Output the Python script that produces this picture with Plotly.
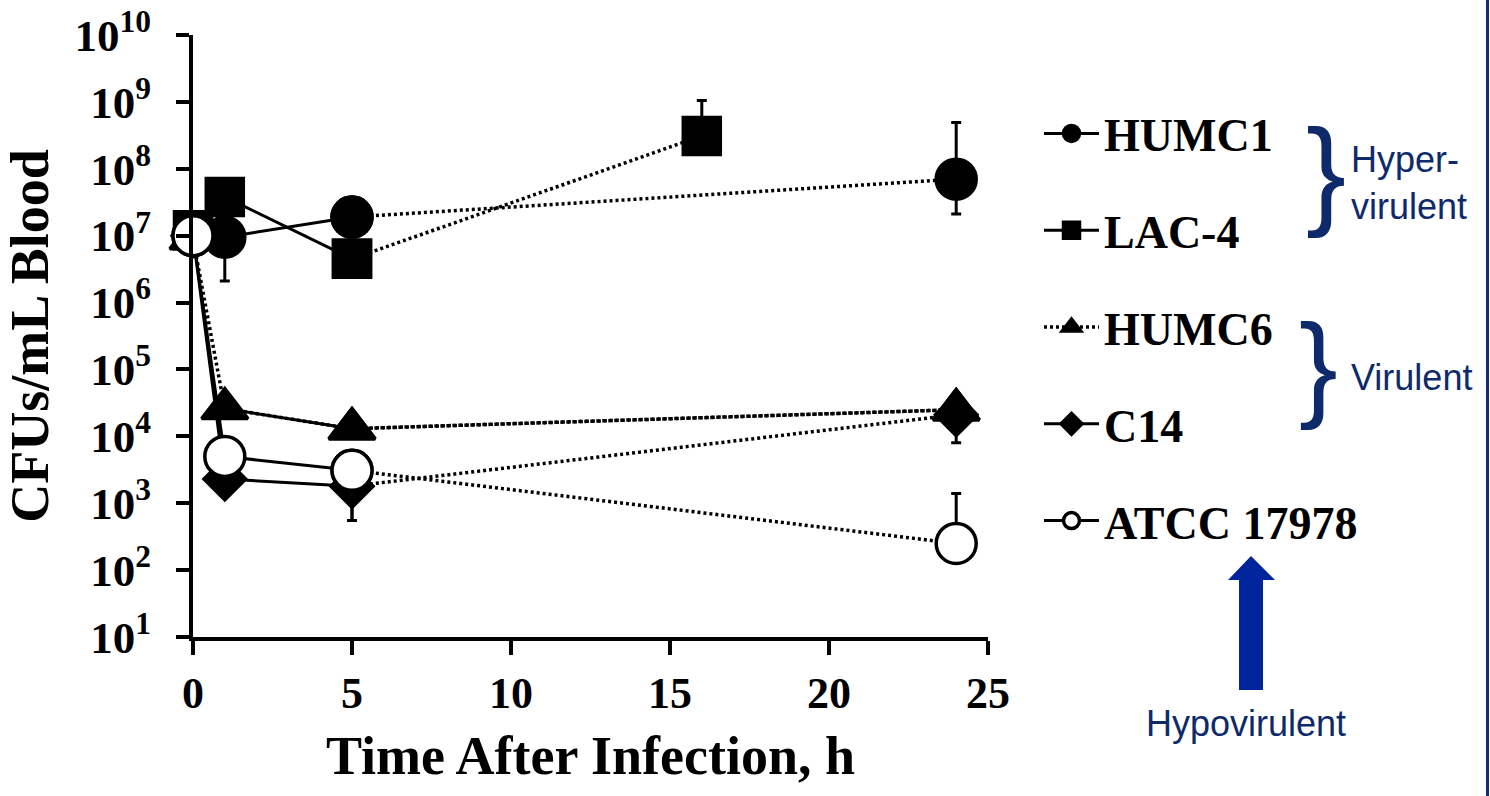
import plotly.graph_objects as go

# ---------------- data ----------------
series_names = ["HUMC1", "LAC-4", "HUMC6", "C14", "ATCC 17978"]

times_humc1 = [0, 1, 5, 24]
cfu_humc1 = [1.0e7, 9.5e6, 1.9e7, 7.0e7]
upper_humc1 = [None, None, None, 4.9e8]
lower_humc1 = [None, 2.1e6, None, 2.1e7]

times_lac4 = [0, 1, 5, 16]
cfu_lac4 = [1.2e7, 3.8e7, 4.5e6, 3.1e8]
upper_lac4 = [None, None, None, 1.05e9]
lower_lac4 = [None, None, None, None]

times_humc6 = [0, 1, 5, 24]
cfu_humc6 = [9.0e6, 2.6e4, 1.3e4, 2.5e4]
upper_humc6 = [None, None, None, None]
lower_humc6 = [None, None, None, None]

times_c14 = [0, 1, 5, 24]
cfu_c14 = [1.0e7, 2.3e3, 1.8e3, 2.1e4]
upper_c14 = [None, None, None, None]
lower_c14 = [None, None, 5.5e2, 8.0e3]

times_atcc = [0, 1, 5, 24]
cfu_atcc = [1.0e7, 5.0e3, 3.1e3, 2.5e2]
upper_atcc = [None, None, None, 1.4e3]
lower_atcc = [None, None, None, None]

y_tick_exponents = list(range(1, 11))
x_ticks = [0, 5, 10, 15, 20, 25]

# ---------------- layout helpers ----------------
W, H = 1490, 796
L, T = 193, 35
PW, PH = 795, 602
R, B = W - L - PW, H - T - PH


def xp(px):
    return (px - L) / PW


def yp(py):
    return (T + PH - py) / PH


SERIF = "Liberation Serif"
SANS = "Liberation Sans"
NAVY = "#0f2a6b"

fig = go.Figure()


def err_arrays(ys, ups, los, idx):
    plus = [(ups[i] - ys[i]) if ups[i] is not None else 0 for i in idx]
    minus = [(ys[i] - los[i]) if los[i] is not None else 0 for i in idx]
    return plus, minus


def add_series(name, t, y, ups, los, symbol, size, fill, early_dash, overlay_solid=None):
    marker = dict(symbol=symbol, size=size, color=fill, line=dict(color="black", width=3.5))
    early_idx = [i for i, v in enumerate(t) if v <= 5]
    late_idx = [i for i, v in enumerate(t) if v >= 5]
    idx = list(range(len(t))) if early_dash == "dot" else early_idx
    plus, minus = err_arrays(y, ups, los, idx)
    lp, lm = err_arrays(y, ups, los, late_idx)
    fig.add_trace(go.Scatter(
        x=[t[i] for i in late_idx], y=[y[i] for i in late_idx],
        mode="lines+markers", showlegend=False, legendgroup=name, cliponaxis=False,
        line=dict(color="black", width=3.5, dash="3px,3px"), marker=marker,
        error_y=dict(type="data", symmetric=False, array=lp, arrayminus=lm,
                     color="black", thickness=3, width=5),
        hoverinfo="skip"))
    fig.add_trace(go.Scatter(
        x=[t[i] for i in idx], y=[y[i] for i in idx],
        mode="lines+markers", name=name, legendgroup=name, cliponaxis=False,
        line=dict(color="black", width=3.5 if early_dash == "dot" else 3,
                  dash="3px,3px" if early_dash == "dot" else "solid"),
        marker=marker,
        error_y=dict(type="data", symmetric=False, array=plus, arrayminus=minus,
                     color="black", thickness=3, width=5)))
    if overlay_solid is not None:
        oi = [i for i, v in enumerate(t) if overlay_solid[0] <= v <= overlay_solid[1]]
        fig.add_trace(go.Scatter(
            x=[t[i] for i in oi], y=[y[i] for i in oi], mode="lines", showlegend=False,
            legendgroup=name, cliponaxis=False, line=dict(color="black", width=3)))


add_series(series_names[0], times_humc1, cfu_humc1, upper_humc1, lower_humc1, "circle", 40, "black", "solid")
add_series(series_names[1], times_lac4, cfu_lac4, upper_lac4, lower_lac4, "square", 37, "black", "solid")
add_series(series_names[2], times_humc6, cfu_humc6, upper_humc6, lower_humc6, "triangle-up", 40, "black", "dot",
           overlay_solid=(1, 5))
add_series(series_names[3], times_c14, cfu_c14, upper_c14, lower_c14, "diamond", 32, "black", "solid")
add_series(series_names[4], times_atcc, cfu_atcc, upper_atcc, lower_atcc, "circle", 40, "white", "solid")

fig.update_layout(
    width=W, height=H,
    margin=dict(l=L, r=R, t=T, b=B, autoexpand=False),
    paper_bgcolor="white", plot_bgcolor="white",
    font=dict(family=SERIF, color="black"),
    showlegend=True,
    legend=dict(x=xp(1039), y=yp(97), xanchor="left", yanchor="top",
                font=dict(family=SERIF, size=46, color="black", weight="bold"),
                itemwidth=55, tracegroupgap=34, bgcolor="rgba(0,0,0,0)",
                itemclick=False, itemdoubleclick=False),
    xaxis=dict(range=[0, 25], tickvals=x_ticks, ticktext=[str(v) for v in x_ticks],
               showline=True, linewidth=4, linecolor="black", showgrid=False, zeroline=False,
               ticks="outside", ticklen=14, tickwidth=4, tickcolor="black", ticklabeloverflow="allow",
               tickfont=dict(family=SERIF, size=44, color="black", weight="bold"),
               title=dict(text="Time After Infection, h", standoff=20,
                          font=dict(family=SERIF, size=54, color="black", weight="bold"))),
    yaxis=dict(type="log", range=[1, 10],
               tickvals=[10 ** e for e in y_tick_exponents],
               ticktext=["10<sup>%d</sup>" % e for e in y_tick_exponents],
               showline=True, linewidth=4, linecolor="black", showgrid=False, zeroline=False,
               ticks="outside", ticklen=13, tickwidth=4, tickcolor="black", ticklabelstandoff=16,
               ticklabeloverflow="allow",
               tickfont=dict(family=SERIF, size=45, color="black", weight="bold"),
               title=dict(text="CFUs/mL Blood", standoff=11,
                          font=dict(family=SERIF, size=54, color="black", weight="bold"))),
)

annotations = [
    dict(text="}", x=xp(1326), y=yp(171), font=dict(family=SANS, size=120, color=NAVY)),
    dict(text="}", x=xp(1318), y=yp(366), font=dict(family=SANS, size=116, color=NAVY)),
    dict(text="Hyper-<br>virulent", x=xp(1349), y=yp(183), xanchor="left", align="left",
         font=dict(family=SANS, size=36, color=NAVY)),
    dict(text="Virulent", x=xp(1349), y=yp(377), xanchor="left",
         font=dict(family=SANS, size=36, color=NAVY)),
    dict(text="Hypovirulent", x=xp(1246), y=yp(723), xanchor="center",
         font=dict(family=SANS, size=36, color=NAVY)),
]
for a in annotations:
    a.setdefault("xanchor", "center")
    a.setdefault("yanchor", "middle")
    fig.add_annotation(xref="paper", yref="paper", showarrow=False, **a)

ARROW = "#00249c"
fig.add_shape(type="rect", xref="paper", yref="paper",
              x0=xp(1239), x1=xp(1263), y0=yp(690), y1=yp(578),
              fillcolor=ARROW, line=dict(width=0))
fig.add_shape(type="path", xref="paper", yref="paper",
              path="M %f %f L %f %f L %f %f Z" % (xp(1228), yp(580), xp(1275), yp(580), xp(1251), yp(556)),
              fillcolor=ARROW, line=dict(width=0))
fig.add_shape(type="line", xref="paper", yref="paper",
              x0=xp(1487.5), x1=xp(1487.5), y0=yp(0), y1=yp(796),
              line=dict(color="#122c7a", width=3))

fig.write_html("out.html", config={"displayModeBar": False},
               post_script="document.body.style.margin='0';document.body.style.overflow='hidden';")
